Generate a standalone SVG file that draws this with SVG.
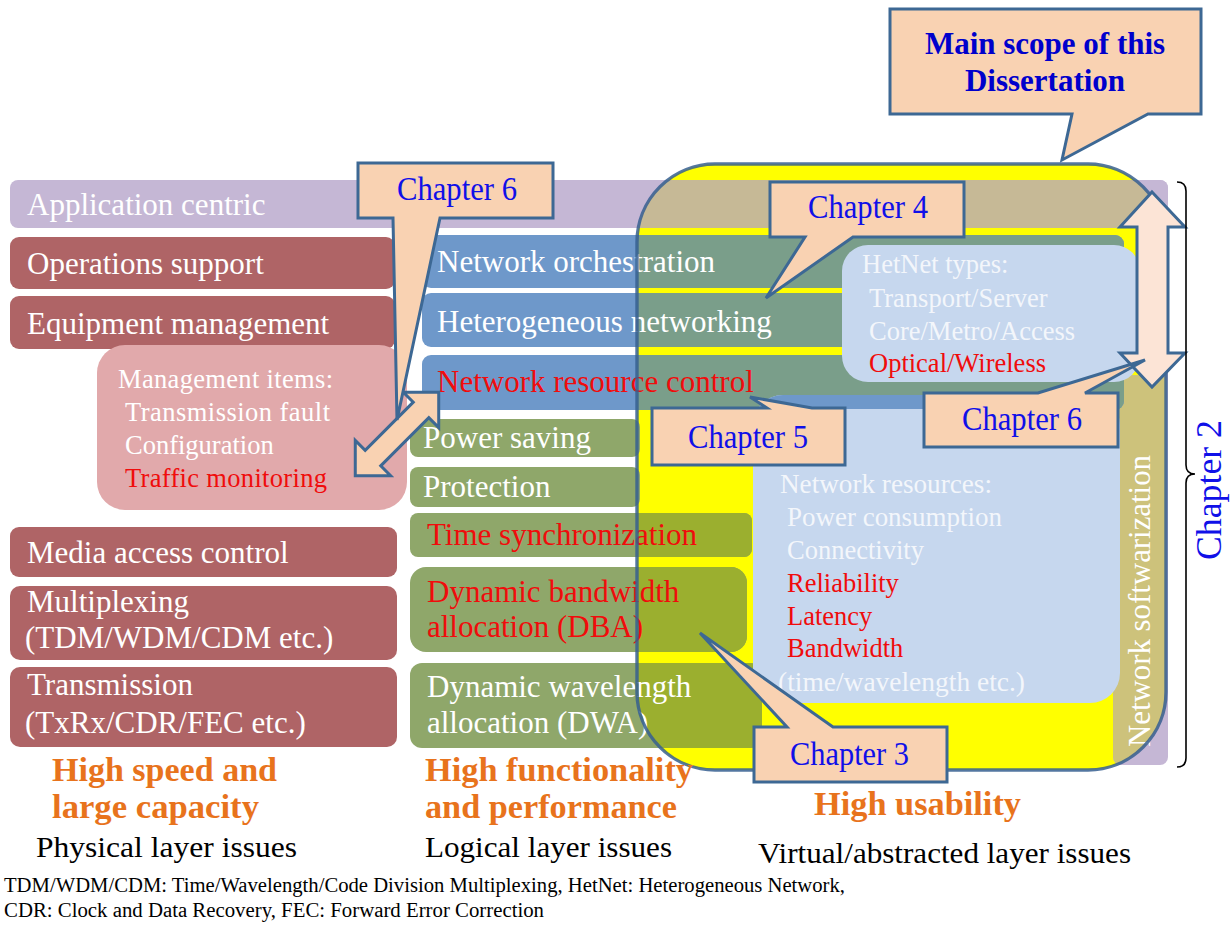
<svg xmlns="http://www.w3.org/2000/svg" width="1232" height="925" viewBox="0 0 1232 925">
  <defs>
    <style>
      text { font-family: "Liberation Serif", "Times New Roman", serif; }
      .row { font-size: 31px; fill: #ffffff; }
      .box { font-size: 26.5px; fill: #ffffff; }
      .pale { fill: #f3f6fb; }
      .red { fill: #f00c0c; }
      .ch { font-size: 34px; fill: #1010e8; }
      .ch2 { font-size: 35px; fill: #1010e8; }
      .title { font-size: 31px; font-weight: bold; fill: #0000cc; }
      .goal { font-size: 33px; font-weight: bold; fill: #e8731c; }
      .layer { font-size: 30px; fill: #000000; }
      .note { font-size: 20px; fill: #000000; }
      .callout { fill: #f9d2b2; stroke: #3d6894; stroke-width: 3; stroke-linejoin: miter; }
      .rose { fill: #af6466; }
      .blue { fill: #6e98ca; }
      .blueIn { fill: #7a9e8a; }
      .sage { fill: #8fa76a; }
      .sageIn { fill: #9baf2f; }
      .pane { fill: #c6d7ee; }
    </style>
    <clipPath id="scopeClip">
      <rect x="637" y="164" width="529" height="606" rx="78"/>
    </clipPath>
    <clipPath id="resClip">
      <rect x="753" y="395" width="367" height="308" rx="30"/>
    </clipPath>
  </defs>

  <rect x="0" y="0" width="1232" height="925" fill="#ffffff"/>

  <!-- yellow body of the main scope area -->
  <g id="main-scope-fill">
    <rect x="637" y="164" width="529" height="606" rx="78" fill="#ffff00"/>
  </g>

  <!-- application layer band with its right-hand column -->
  <g id="application-centric">
    <rect x="10" y="180" width="1158" height="48" rx="8" fill="#c5b7d5"/>
    <rect x="1113" y="180" width="55" height="585" rx="8" fill="#c5b7d5"/>
    <g clip-path="url(#scopeClip)">
      <rect x="10" y="180" width="1158" height="48" rx="8" fill="#c6b996"/>
      <rect x="1113" y="228" width="55" height="147" fill="#ffff00"/>
    </g>
    <text class="row" x="27" y="215">Application centric</text>
  </g>

  <g id="network-softwarization">
    <g clip-path="url(#scopeClip)">
      <rect x="1113" y="375" width="55" height="390" rx="8" fill="#cdc27b"/>
    </g>
    <text class="row" transform="translate(1150,601) rotate(-90)" text-anchor="middle" textLength="292" lengthAdjust="spacingAndGlyphs">Network softwarization</text>
  </g>

  <!-- physical layer column -->
  <g id="operations-support">
    <rect class="rose" x="10" y="237" width="385" height="52" rx="9"/>
    <text class="row" x="27" y="274">Operations support</text>
  </g>
  <g id="equipment-management">
    <rect class="rose" x="10" y="296" width="385" height="53" rx="9"/>
    <text class="row" x="27" y="334">Equipment management</text>
  </g>
  <g id="management-items">
    <rect x="97" y="345" width="310" height="165" rx="28" fill="#e1a9ab"/>
    <text class="box" x="118" y="388" textLength="215" lengthAdjust="spacing">Management items:</text>
    <text class="box" x="125" y="421" textLength="205" lengthAdjust="spacing">Transmission fault</text>
    <text class="box" x="125" y="454">Configuration</text>
    <text class="box red" x="125" y="487" textLength="202" lengthAdjust="spacing">Traffic monitoring</text>
  </g>
  <g id="media-access-control">
    <rect class="rose" x="10" y="527" width="387" height="50" rx="9"/>
    <text class="row" x="27" y="563">Media access control</text>
  </g>
  <g id="multiplexing">
    <rect class="rose" x="10" y="586" width="387" height="74" rx="10"/>
    <text class="row" x="27" y="612">Multiplexing</text>
    <text class="row" x="25" y="648">(TDM/WDM/CDM etc.)</text>
  </g>
  <g id="transmission">
    <rect class="rose" x="10" y="667" width="387" height="80" rx="10"/>
    <text class="row" x="27" y="695">Transmission</text>
    <text class="row" x="25" y="733">(TxRx/CDR/FEC etc.)</text>
  </g>

  <!-- logical layer column -->
  <g id="network-orchestration">
    <rect class="blue" x="422" y="235" width="702" height="53" rx="9"/>
    <rect class="blueIn" x="422" y="235" width="702" height="53" rx="9" clip-path="url(#scopeClip)"/>
    <text class="row" x="437" y="272">Network orchestration</text>
  </g>
  <g id="heterogeneous-networking">
    <rect class="blue" x="422" y="293" width="702" height="54" rx="9"/>
    <rect class="blueIn" x="422" y="293" width="702" height="54" rx="9" clip-path="url(#scopeClip)"/>
    <text class="row" x="437" y="332">Heterogeneous networking</text>
  </g>
  <g id="network-resource-control">
    <rect class="blue" x="422" y="355" width="702" height="55" rx="9"/>
    <rect class="blueIn" x="422" y="355" width="702" height="55" rx="9" clip-path="url(#scopeClip)"/>
    <text class="row red" x="437" y="392">Network resource control</text>
  </g>
  <g id="power-saving">
    <rect class="sage" x="410" y="419" width="230" height="38" rx="8"/>
    <text class="row" x="423" y="448">Power saving</text>
  </g>
  <g id="protection">
    <rect class="sage" x="410" y="467" width="230" height="40" rx="8"/>
    <text class="row" x="423" y="497">Protection</text>
  </g>
  <g id="time-synchronization">
    <rect class="sage" x="410" y="513" width="342" height="44" rx="8"/>
    <rect class="sageIn" x="410" y="513" width="342" height="44" rx="8" clip-path="url(#scopeClip)"/>
    <text class="row red" x="427" y="545">Time synchronization</text>
  </g>
  <g id="dba">
    <rect class="sage" x="410" y="567" width="337" height="85" rx="16"/>
    <rect class="sageIn" x="410" y="567" width="337" height="85" rx="16" clip-path="url(#scopeClip)"/>
    <text class="row red" x="427" y="602">Dynamic bandwidth</text>
    <text class="row red" x="427" y="637">allocation (DBA)</text>
  </g>
  <g id="dwa">
    <rect class="sage" x="410" y="663" width="352" height="85" rx="12"/>
    <rect class="sageIn" x="410" y="663" width="352" height="85" rx="12" clip-path="url(#scopeClip)"/>
    <text class="row" x="427" y="697">Dynamic wavelength</text>
    <text class="row" x="427" y="733">allocation (DWA)</text>
  </g>

  <!-- outline of the main scope area -->
  <g id="main-scope">
    <rect x="637" y="164" width="529" height="606" rx="78" fill="none" stroke="#365f90" stroke-width="3.4" stroke-opacity="0.85"/>
  </g>

  <g id="hetnet-types">
    <rect class="pane" x="842" y="245" width="298" height="137" rx="26"/>
    <text class="box pale" x="862" y="273">HetNet types:</text>
    <text class="box pale" x="869" y="307">Transport/Server</text>
    <text class="box pale" x="869" y="340">Core/Metro/Access</text>
    <text class="box red" x="869" y="372">Optical/Wireless</text>
  </g>

  <g id="network-resources">
    <rect class="pane" x="753" y="395" width="367" height="308" rx="30"/>
    <rect class="blue" x="753" y="395" width="367" height="14" clip-path="url(#resClip)"/>
    <text class="box pale" x="780" y="493" textLength="212" lengthAdjust="spacingAndGlyphs">Network resources:</text>
    <text class="box pale" x="787" y="526" textLength="215" lengthAdjust="spacingAndGlyphs">Power consumption</text>
    <text class="box pale" x="787" y="559">Connectivity</text>
    <text class="box red" x="787" y="592">Reliability</text>
    <text class="box red" x="787" y="625">Latency</text>
    <text class="box red" x="787" y="657">Bandwidth</text>
    <text class="box pale" x="778" y="691" textLength="247" lengthAdjust="spacingAndGlyphs">(time/wavelength etc.)</text>
  </g>

  <!-- double-headed arrows and the brace for Chapter 2 -->
  <g id="connectors">
    <polygon points="1152,192 1185,227 1168,227 1168,353 1185,353 1152,387 1120,353 1137,353 1137,227 1120,227" fill="#fce4d6" stroke="#3d6894" stroke-width="3" stroke-linejoin="miter"/>
    <polygon transform="translate(397,434) rotate(-45)" points="59,0 34,-25 34,-11 -34,-11 -34,-25 -59,0 -34,25 -34,11 34,11 34,25" fill="#f9d2b2" stroke="#3d6894" stroke-width="3" stroke-linejoin="miter"/>
    <path d="M1177,182 Q1186,182 1186,191 L1186,465 Q1186,474 1195,474 Q1186,474 1186,483 L1186,758 Q1186,767 1177,767" fill="none" stroke="#000000" stroke-width="1.6"/>
  </g>

  <!-- chapter callouts -->
  <g id="callout-main-scope">
    <path class="callout" d="M890,9 H1201 V114 H1148 L1062,160 L1072,114 H890 Z"/>
    <text class="title" x="1045" y="54" text-anchor="middle">Main scope of this</text>
    <text class="title" x="1045" y="91" text-anchor="middle">Dissertation</text>
  </g>
  <g id="callout-chapter6-left">
    <path class="callout" d="M358,163 H553 V218 H440 L397,420 L393,218 H358 Z"/>
    <text class="ch" x="397" y="200" textLength="120" lengthAdjust="spacingAndGlyphs">Chapter 6</text>
  </g>
  <g id="callout-chapter4">
    <path class="callout" d="M770,182 H964 V237 H853 L766,298 L805,237 H770 Z"/>
    <text class="ch" x="808" y="218" textLength="120" lengthAdjust="spacingAndGlyphs">Chapter 4</text>
  </g>
  <g id="callout-chapter5">
    <path class="callout" d="M652,408 H767 L750,397 L812,408 H845 V465 H652 Z"/>
    <text class="ch" x="688" y="448" textLength="120" lengthAdjust="spacingAndGlyphs">Chapter 5</text>
  </g>
  <g id="callout-chapter6-right">
    <path class="callout" d="M924,393 H1038 L1145,360 L1085,393 H1118 V447 H924 Z"/>
    <text class="ch" x="962" y="430" textLength="120" lengthAdjust="spacingAndGlyphs">Chapter 6</text>
  </g>
  <g id="callout-chapter3">
    <path class="callout" d="M754,727 H787 L700,633 L833,727 H947 V782 H754 Z"/>
    <text class="ch" x="790" y="765" textLength="119" lengthAdjust="spacingAndGlyphs">Chapter 3</text>
  </g>

  <g id="chapter2-label">
    <text class="ch2" transform="translate(1221,490) rotate(-90)" text-anchor="middle" textLength="140" lengthAdjust="spacingAndGlyphs">Chapter 2</text>
  </g>

  <!-- column captions -->
  <g id="caption-physical">
    <text class="goal" x="52" y="781" textLength="225" lengthAdjust="spacingAndGlyphs">High speed and</text>
    <text class="goal" x="52" y="818" textLength="207" lengthAdjust="spacingAndGlyphs">large capacity</text>
    <text class="layer" x="36" y="857" textLength="261" lengthAdjust="spacingAndGlyphs">Physical layer issues</text>
  </g>
  <g id="caption-logical">
    <text class="goal" x="425" y="781" textLength="268" lengthAdjust="spacingAndGlyphs">High functionality</text>
    <text class="goal" x="425" y="818" textLength="252" lengthAdjust="spacingAndGlyphs">and performance</text>
    <text class="layer" x="425" y="857" textLength="247" lengthAdjust="spacingAndGlyphs">Logical layer issues</text>
  </g>
  <g id="caption-virtual">
    <text class="goal" x="814" y="815" textLength="207" lengthAdjust="spacingAndGlyphs">High usability</text>
    <text class="layer" x="758" y="863" textLength="373" lengthAdjust="spacingAndGlyphs">Virtual/abstracted layer issues</text>
  </g>

  <g id="footnote">
    <text class="note" x="4" y="892" textLength="841" lengthAdjust="spacingAndGlyphs">TDM/WDM/CDM: Time/Wavelength/Code Division Multiplexing, HetNet: Heterogeneous Network,</text>
    <text class="note" x="4" y="917" textLength="540" lengthAdjust="spacingAndGlyphs">CDR: Clock and Data Recovery, FEC: Forward Error Correction</text>
  </g>
</svg>
